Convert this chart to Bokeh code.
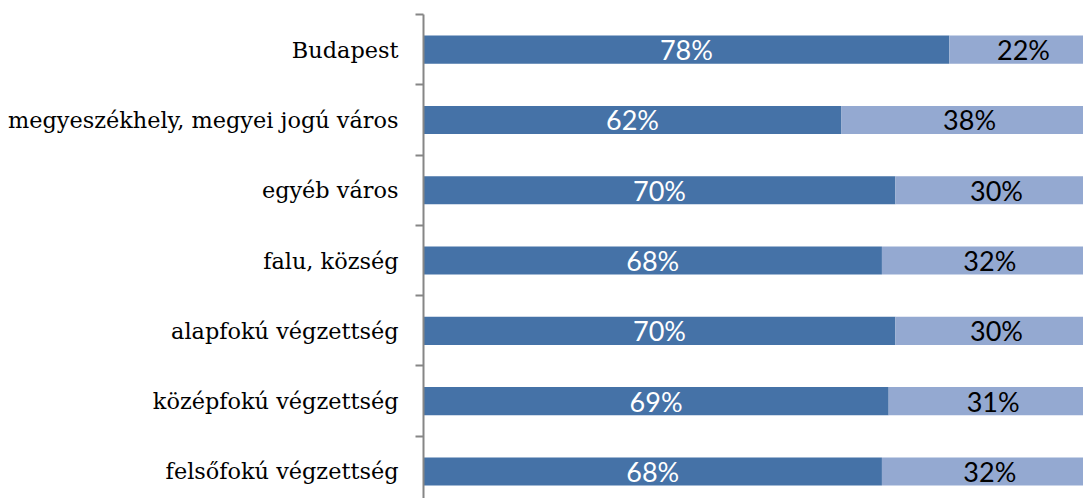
from bokeh.plotting import figure
from bokeh.models import ColumnDataSource, FixedTicker, Range1d
from bokeh.core.properties import value
from bokeh.embed import file_html
from bokeh.resources import INLINE

categories = [
    "Budapest",
    "megyeszékhely, megyei jogú város",
    "egyéb város",
    "falu, község",
    "alapfokú végzettség",
    "középfokú végzettség",
    "felsőfokú végzettség",
]
dark_values = [78, 62, 70, 68, 70, 69, 68]
light_values = [22, 38, 30, 32, 30, 31, 32]

n = len(categories)
ypos = [n - i for i in range(n)]
right2 = [d + l for d, l in zip(dark_values, light_values)]

src = ColumnDataSource(dict(
    y=ypos,
    dark=dark_values,
    light=light_values,
    right2=right2,
    dmid=[d / 2 for d in dark_values],
    lmid=[d + l / 2 for d, l in zip(dark_values, light_values)],
    dlab=[f"{d}%" for d in dark_values],
    llab=[f"{l}%" for l in light_values],
))

p = figure(width=1083, height=498, output_backend="svg", toolbar_location=None,
           x_range=Range1d(0, 97.9), y_range=Range1d(0.615, 7.5),
           min_border_left=423, min_border_right=0, min_border_top=14, min_border_bottom=0)
p.outline_line_color = None
p.xaxis.visible = False
p.xgrid.visible = False
p.ygrid.visible = False
p.background_fill_color = "white"
p.border_fill_color = "white"

p.hbar(y="y", left=0, right="dark", height=0.4, source=src,
       fill_color="#4572a7", line_color=None)
p.hbar(y="y", left="dark", right="right2", height=0.4, source=src,
       fill_color="#94a9d1", line_color=None)

p.text(x="dmid", y="y", text="dlab", source=src, text_color="white",
       text_align="center", text_baseline="middle",
       text_font=value("Lato"), text_font_size="27px")
p.text(x="lmid", y="y", text="llab", source=src, text_color="black",
       text_align="center", text_baseline="middle",
       text_font=value("Lato"), text_font_size="27px")

ax = p.yaxis[0]
ax.ticker = FixedTicker(ticks=ypos, minor_ticks=[y + 0.5 for y in range(n + 1)])
ax.major_label_overrides = {y: c for y, c in zip(ypos, categories)}
ax.major_tick_line_color = None
ax.major_tick_in = 0
ax.major_tick_out = 0
ax.minor_tick_in = 0
ax.minor_tick_out = 8
ax.minor_tick_line_color = "#868686"
ax.minor_tick_line_width = 2
ax.axis_line_color = "#868686"
ax.axis_line_width = 2
ax.major_label_standoff = 17
ax.major_label_text_font = "DejaVu Serif"
ax.major_label_text_font_size = "22.4px"
ax.major_label_text_color = "black"

open("out.html", "w").write(file_html(p, INLINE))
